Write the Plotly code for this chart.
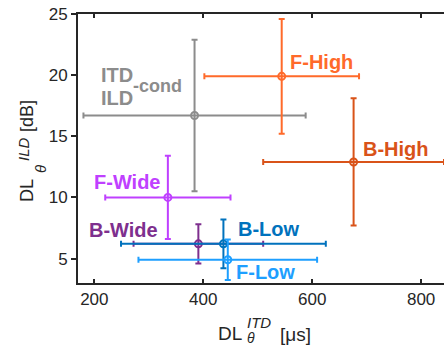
import plotly.graph_objects as go

# ---- data ----
labels = ["ITD/ILD-cond", "F-High", "B-High", "F-Wide", "B-Wide", "B-Low", "F-Low"]
itd = [384, 544, 676, 335, 391, 437, 445]
itd_err = [204, 142, 166, 115, 119, 188, 164]
ild = [16.7, 19.9, 12.9, 10.0, 6.2, 6.2, 4.9]
ild_err = [6.2, 4.7, 5.2, 3.4, 1.6, 2.0, 1.65]
colors = ["#8c8c8c", "#ff6a2a", "#d95319", "#bf40ff", "#7e2f8e", "#0072bd", "#1e9fff"]

x_ticks = [200, 400, 600, 800]
y_ticks = [5, 10, 15, 20, 25]

W, H = 444, 347
L, R, T, B = 78, 0, 14, 64
FONT = "Liberation Sans, Arial, sans-serif"
AX = "#262626"

fig = go.Figure()
for i in range(len(labels)):
    fig.add_trace(go.Scatter(
        x=[itd[i]], y=[ild[i]], mode="markers", name=labels[i],
        marker=dict(symbol="circle-open", size=7, color=colors[i], line=dict(width=2, color=colors[i])),
        error_x=dict(type="data", array=[itd_err[i]], color=colors[i], thickness=2, width=3),
        error_y=dict(type="data", array=[ild_err[i]], color=colors[i], thickness=2, width=3),
        showlegend=False, cliponaxis=True,
    ))

# point labels (data coordinates, left anchored)
lab_pos = [
    ("<b>F-High</b>", 555, 21.1, colors[1], 20),
    ("<b>B-High</b>", 689, 14.0, colors[2], 20),
    ("<b>F-Wide</b>", 195, 11.3, colors[3], 20),
    ("<b>B-Wide</b>", 186, 7.35, colors[4], 20),
    ("<b>B-Low</b>", 461, 7.45, colors[5], 20),
    ("<b>F-Low</b>", 457, 3.9, colors[6], 20),
    ("<b>ITD</b>", 208, 20.0, colors[0], 20),
    ("<b>ILD</b>", 208, 18.1, colors[0], 20),
    ("<b>-cond</b>", 267, 19.1, colors[0], 18),
]
for txt, xv, yv, c, s in lab_pos:
    fig.add_annotation(x=xv, y=yv, xref="x", yref="y", text=txt, showarrow=False,
                       xanchor="left", yanchor="middle", font=dict(family=FONT, size=s, color=c))

def paper(xp, yp):
    return (xp - L) / (W - L - R), (H - B - yp) / (H - T - B)

# axis titles made of pieces (stacked sub/superscripts)
pieces = [
    ("DL", 230, 333, 19, 0),
    ("<i>ITD</i>", 259, 322, 15, 0),
    ("<i>θ</i>", 251, 338, 14, 0),
    ("[μs]", 295, 334, 19, 0),
    ("DL", 27, 191, 18, -90),
    ("<i>θ</i>", 40, 169, 15, -90),
    ("<i>ILD</i>", 23, 149, 15, -90),
    ("[dB]", 27, 116, 18, -90),
]
for txt, xp, yp, s, ang in pieces:
    px_, py_ = paper(xp, yp)
    fig.add_annotation(x=px_, y=py_, xref="paper", yref="paper", text=txt, showarrow=False,
                       xanchor="center", yanchor="middle", textangle=ang,
                       font=dict(family=FONT, size=s, color=AX))

fig.update_xaxes(range=[170, 842], tickvals=x_ticks, ticks="inside", ticklen=4, tickwidth=1.5,
                 tickcolor=AX, showline=True, linecolor=AX, linewidth=2, mirror="ticks",
                 showgrid=False, zeroline=False, tickfont=dict(family=FONT, size=17, color=AX))
fig.update_yaxes(range=[3, 25], tickvals=y_ticks, ticks="outside", ticklen=5, tickwidth=1.5,
                 tickcolor=AX, showline=True, linecolor=AX, linewidth=2, mirror=False,
                 showgrid=False, zeroline=False, tickfont=dict(family=FONT, size=17, color=AX))

fig.update_layout(width=W, height=H, margin=dict(l=L, r=R, t=T, b=B),
                  plot_bgcolor="white", paper_bgcolor="white", showlegend=False)

fig.write_html("out.html", config={"displayModeBar": False},
               post_script="document.body.style.margin='0';document.body.style.overflow='hidden';")
